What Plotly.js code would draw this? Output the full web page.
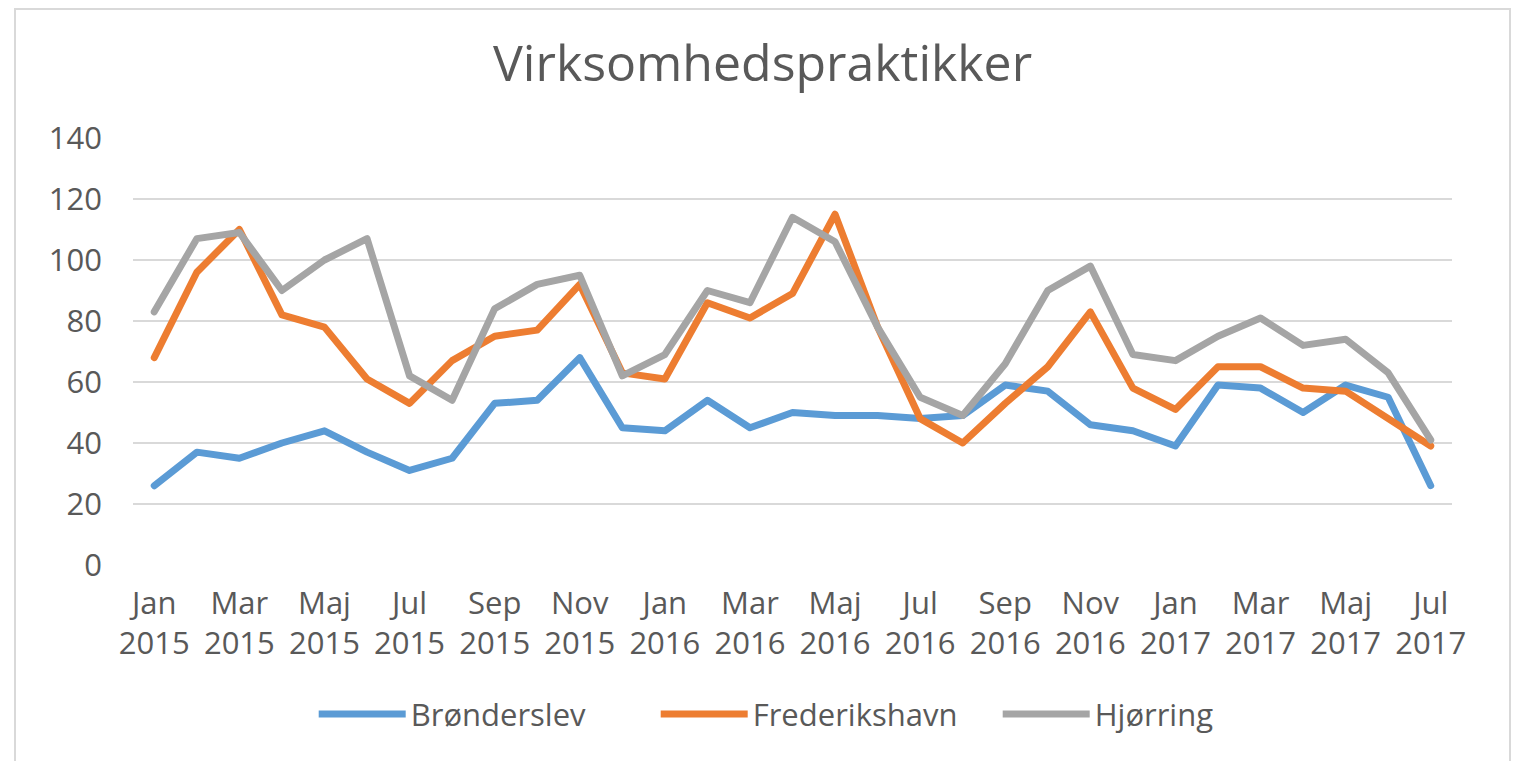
<!DOCTYPE html>
<html>
<head>
<meta charset="utf-8">
<script src="https://cdn.plot.ly/plotly-3.0.1.min.js"></script>
<style>
  html, body { margin: 0; padding: 0; background: #ffffff; overflow: hidden; }
  #chart { width: 1513px; height: 761px; position: absolute; left: 0; top: 0; }
  #frame { position: absolute; left: 14px; top: 8px; width: 1497px; height: 800px;
           box-sizing: border-box; border: 2px solid #d9d9d9; pointer-events: none; }
  .scatterlayer path.js-line { stroke-linejoin: round; stroke-linecap: round; }
</style>
</head>
<body>
<div id="chart"></div>
<div id="frame"></div>
<script>
// ---- data ----
const monthNames = ["Jan","Feb","Mar","Apr","Maj","Jun","Jul","Aug","Sep","Okt","Nov","Dec"];
const startYear = 2015;
const monthCount = 31;

const bronderslev   = [26,37,35,40,44,37,31,35,53,54,68,45,44,54,45,50,49,49,48,49,59,57,46,44,39,59,58,50,59,55,26];
const frederikshavn = [68,96,110,82,78,61,53,67,75,77,92,63,61,86,81,89,115,78,48,40,53,65,83,58,51,65,65,58,57,48,39];
const hjorring      = [83,107,109,90,100,107,62,54,84,92,95,62,69,90,86,114,106,78,55,49,66,90,98,69,67,75,81,72,74,63,41];

const seriesNames  = ["Brønderslev", "Frederikshavn", "Hjørring"];
const seriesColors = ["#5B9BD5", "#ED7D31", "#A5A5A5"];

// category labels
const labels = [];
for (let i = 0; i < monthCount; i++) {
  labels.push(monthNames[i % 12] + "<br>" + (startYear + Math.floor(i / 12)));
}
const tickLabels = labels.filter((_, i) => i % 2 === 0);

const seriesValues = [bronderslev, frederikshavn, hjorring];
const traces = seriesValues.map((vals, k) => ({
  type: "scatter",
  mode: "lines",
  x: labels,
  y: vals,
  name: seriesNames[k],
  line: { color: seriesColors[k], width: 7 },
  hoverinfo: "x+y+name"
}));

const textColor = "#595959";
const layout = {
  width: 1513,
  height: 761,
  paper_bgcolor: "#ffffff",
  plot_bgcolor: "#ffffff",
  margin: { l: 133, r: 61, t: 138, b: 196, autoexpand: false },
  font: { family: "Open Sans, sans-serif", color: textColor, size: 31 },
  title: {
    text: "Virksomhedspraktikker",
    font: { family: "Open Sans, sans-serif", size: 50, color: textColor },
    x: 0.504, xref: "container", xanchor: "center",
    y: 0.916, yref: "container", yanchor: "middle"
  },
  xaxis: {
    type: "category",
    range: [-0.5, monthCount - 0.5],
    tickmode: "array",
    tickvals: tickLabels,
    ticktext: tickLabels,
    showgrid: false,
    zeroline: false,
    showline: false,
    ticks: "",
    tickfont: { size: 31, color: textColor },
    ticklabelstandoff: 17,
    automargin: false,
    fixedrange: true
  },
  yaxis: {
    range: [0, 140],
    tickmode: "linear",
    tick0: 0,
    dtick: 20,
    showgrid: true,
    gridcolor: "#d9d9d9",
    gridwidth: 2,
    zeroline: false,
    showline: false,
    ticks: "",
    tickfont: { size: 31, color: textColor },
    ticklabelstandoff: 30,
    automargin: false,
    fixedrange: true
  },
  showlegend: true,
  legend: {
    orientation: "h",
    x: 0.137, xref: "paper", xanchor: "left",
    y: -0.35, yref: "paper", yanchor: "middle",
    font: { size: 31, color: textColor },
    itemwidth: 87,
    entrywidth: 240,
    entrywidthmode: "pixels",
    bgcolor: "rgba(0,0,0,0)",
    traceorder: "normal"
  }
};

Plotly.newPlot("chart", traces, layout, { displayModeBar: false, staticPlot: true });
</script>
</body>
</html>
